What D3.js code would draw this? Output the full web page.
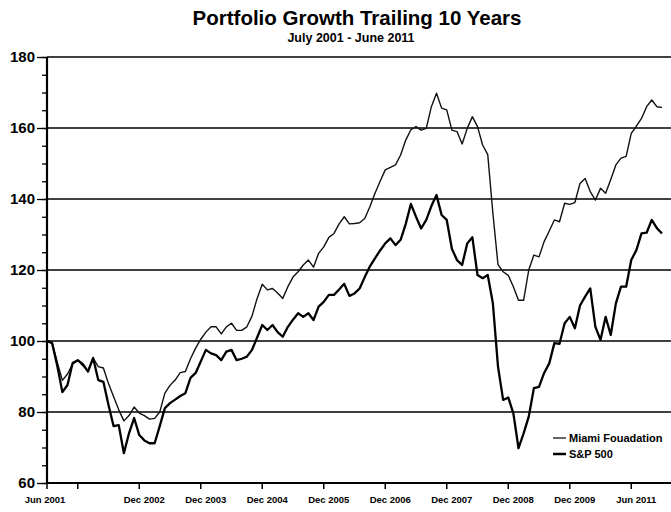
<!DOCTYPE html>
<html>
<head>
<meta charset="utf-8">
<script src="https://cdn.jsdelivr.net/npm/d3@7"></script>
<style>
  body { margin: 0; background: #fff; }
  svg { display: block; font-family: "Liberation Sans", Arial, sans-serif; }
</style>
</head>
<body>
<svg id="chart"></svg>
<script>
// months since Jun 2001 (0 = Jun 2001, 120 = Jun 2011)
const miami = [100, 99.5, 94, 88.9, 90.7, 93.5, 94.6, 93, 91.6, 95.2,
  92.8, 92.4, 88, 84.3, 80.6, 77.5, 79, 81.4, 79.7, 79,
  78, 78.2, 80, 85.3, 87.5, 89, 91.1, 91.4, 95, 98,
  100.5, 102.5, 104, 104, 102, 104, 105, 103, 103, 104,
  107, 112, 116, 114.4, 114.8, 113.5, 112, 115.3, 118, 119.5,
  121.4, 122.8, 120.8, 124.7, 126.5, 129.2, 130.3, 133, 135, 133,
  133.1, 133.3, 134.5, 137.8, 141.6, 145, 148.2, 148.9, 149.6, 152.4,
  156.6, 159.5, 160.4, 159.4, 159.9, 166, 169.8, 165.6, 165.1, 159.4,
  159, 155.5, 159.9, 163.2, 160.4, 155.2, 152.5, 136, 121.5, 119.5,
  118.5, 115.3, 111.5, 111.5, 120, 124.2, 123.7, 128, 131, 134.1,
  133.6, 138.8, 138.5, 139, 144.4, 145.8, 142.1, 139.7, 143, 141.6,
  145.5, 149.6, 151.5, 152, 158.5, 160.5, 162.7, 166, 167.9, 166,
  165.8];

const sp500 = [100, 99.4, 93, 85.6, 87.6, 93.8, 94.6, 93.5, 91.4, 95.2,
  89, 88.5, 82, 76, 76.3, 68.4, 74, 78.3, 73.5, 72,
  71.2, 71.2, 76, 81.1, 82.5, 83.5, 84.5, 85.3, 89.6, 91,
  94.2, 97.5, 96.5, 96, 94.6, 97, 97.5, 94.6, 95, 95.6,
  97.5, 101, 104.5, 103.1, 104.5, 102.5, 101.2, 104, 106, 107.8,
  106.8, 107.8, 105.9, 109.7, 111, 113, 113, 114.5, 116.1, 112.7,
  113.4, 114.8, 118, 121, 123.3, 125.5, 127.5, 128.9, 127, 128.5,
  133, 138.6, 135, 131.7, 134.1, 138, 141.1, 135.5, 134.1, 126,
  122.8, 121.4, 127.5, 129.2, 118.6, 117.7, 118.6, 110.6, 92.8, 83.4,
  84.1, 79.6, 69.8, 74, 78.7, 86.7, 87.1, 91, 93.7, 99.4,
  99.2, 105, 106.8, 103.6, 110, 112.5, 114.8, 104, 100.3, 106.8,
  101.7, 110.6, 115.3, 115.3, 122.8, 125.6, 130.3, 130.5, 134.1, 131.8,
  130.3];

const tickMonths = [0, 6, 18, 30, 42, 54, 66, 78, 90, 102, 114];
const tickLabels = ["Jun 2001", "", "Dec 2002", "Dec 2003", "Dec 2004", "Dec 2005",
  "Dec 2006", "Dec 2007", "Dec 2008", "Dec 2009", "Jun 2011"];
const yTicks = [60, 80, 100, 120, 140, 160, 180];
const seriesNames = ["Miami Fouadation", "S&P 500"];

const W = 671, H = 512;
const plot = { left: 47, right: 662, top: 57, bottom: 483 };

const svg = d3.select("#chart").attr("width", W).attr("height", H);

const x = d3.scaleLinear().domain([0, 120]).range([plot.left, plot.right]);
const y = d3.scaleLinear().domain([60, 180]).range([plot.bottom, plot.top]);

// titles
svg.append("text")
  .attr("x", 357).attr("y", 25)
  .attr("text-anchor", "middle")
  .style("font-size", "20.5px").style("font-weight", "bold")
  .text("Portfolio Growth Trailing 10 Years");
svg.append("text")
  .attr("x", 351).attr("y", 42)
  .attr("text-anchor", "middle")
  .style("font-size", "12.5px").style("font-weight", "bold")
  .text("July 2001 - June 2011");

// gridlines
svg.append("g")
  .selectAll("line")
  .data(yTicks.filter(d => d > 60))
  .enter()
  .append("line")
  .attr("x1", plot.left).attr("x2", W)
  .attr("y1", d => y(d)).attr("y2", d => y(d))
  .attr("stroke", "#000").attr("stroke-width", 1.3);

// y axis: minor ticks every 5, then major ticks with labels
svg.append("g")
  .attr("transform", `translate(${plot.left},0)`)
  .call(d3.axisLeft(y).tickValues(d3.range(60, 181, 5)).tickSize(5).tickFormat(""))
  .call(g => g.select(".domain").remove())
  .selectAll("line").attr("stroke", "#000").attr("stroke-width", 1.3);

svg.append("g")
  .attr("transform", `translate(${plot.left},0)`)
  .call(d3.axisLeft(y).tickValues(yTicks).tickSize(10).tickPadding(2))
  .call(g => g.select(".domain").attr("stroke-width", 2.2).attr("d", `M0,${plot.top}V${plot.bottom}`))
  .call(g => g.selectAll("line").attr("stroke-width", 1.3))
  .selectAll("text")
  .style("font-size", "15px").style("font-weight", "bold")
  .style("font-family", "'Liberation Sans', Arial, sans-serif")
  .attr("fill", "#000");

// x axis
svg.append("line")
  .attr("x1", plot.left).attr("x2", W)
  .attr("y1", plot.bottom).attr("y2", plot.bottom)
  .attr("stroke", "#000").attr("stroke-width", 2);

const xa = svg.append("g");
xa.selectAll("line")
  .data(tickMonths)
  .enter()
  .append("line")
  .attr("x1", d => x(d)).attr("x2", d => x(d))
  .attr("y1", plot.bottom).attr("y2", plot.bottom + 6)
  .attr("stroke", "#000").attr("stroke-width", 1.5);
xa.selectAll("text")
  .data(tickMonths)
  .enter()
  .append("text")
  .attr("x", (d, i) => x(d) + (i === 0 ? -2 : 5))
  .attr("y", 503)
  .attr("text-anchor", "middle")
  .style("font-size", "9.5px").style("font-weight", "bold")
  .text((d, i) => tickLabels[i]);

// lines
const line = d3.line()
  .x((d, i) => x(i))
  .y(d => y(d));

svg.append("path")
  .datum(miami)
  .attr("fill", "none")
  .attr("stroke", "#111")
  .attr("stroke-width", 1.4)
  .attr("stroke-linejoin", "round")
  .attr("d", line);

svg.append("path")
  .datum(sp500)
  .attr("fill", "none")
  .attr("stroke", "#000")
  .attr("stroke-width", 2.3)
  .attr("stroke-linejoin", "round")
  .attr("d", line);

// legend
const legend = svg.append("g").attr("transform", "translate(553,438)");
legend.selectAll("line")
  .data(seriesNames)
  .enter()
  .append("line")
  .attr("x1", 0).attr("x2", 13)
  .attr("y1", (d, i) => i * 16).attr("y2", (d, i) => i * 16)
  .attr("stroke", "#000")
  .attr("stroke-width", (d, i) => i === 0 ? 1.2 : 2.5);
legend.selectAll("text")
  .data(seriesNames)
  .enter()
  .append("text")
  .attr("x", 16)
  .attr("y", (d, i) => i * 16 + 4)
  .style("font-size", "11px").style("font-weight", "bold")
  .text(d => d);
</script>
</body>
</html>
